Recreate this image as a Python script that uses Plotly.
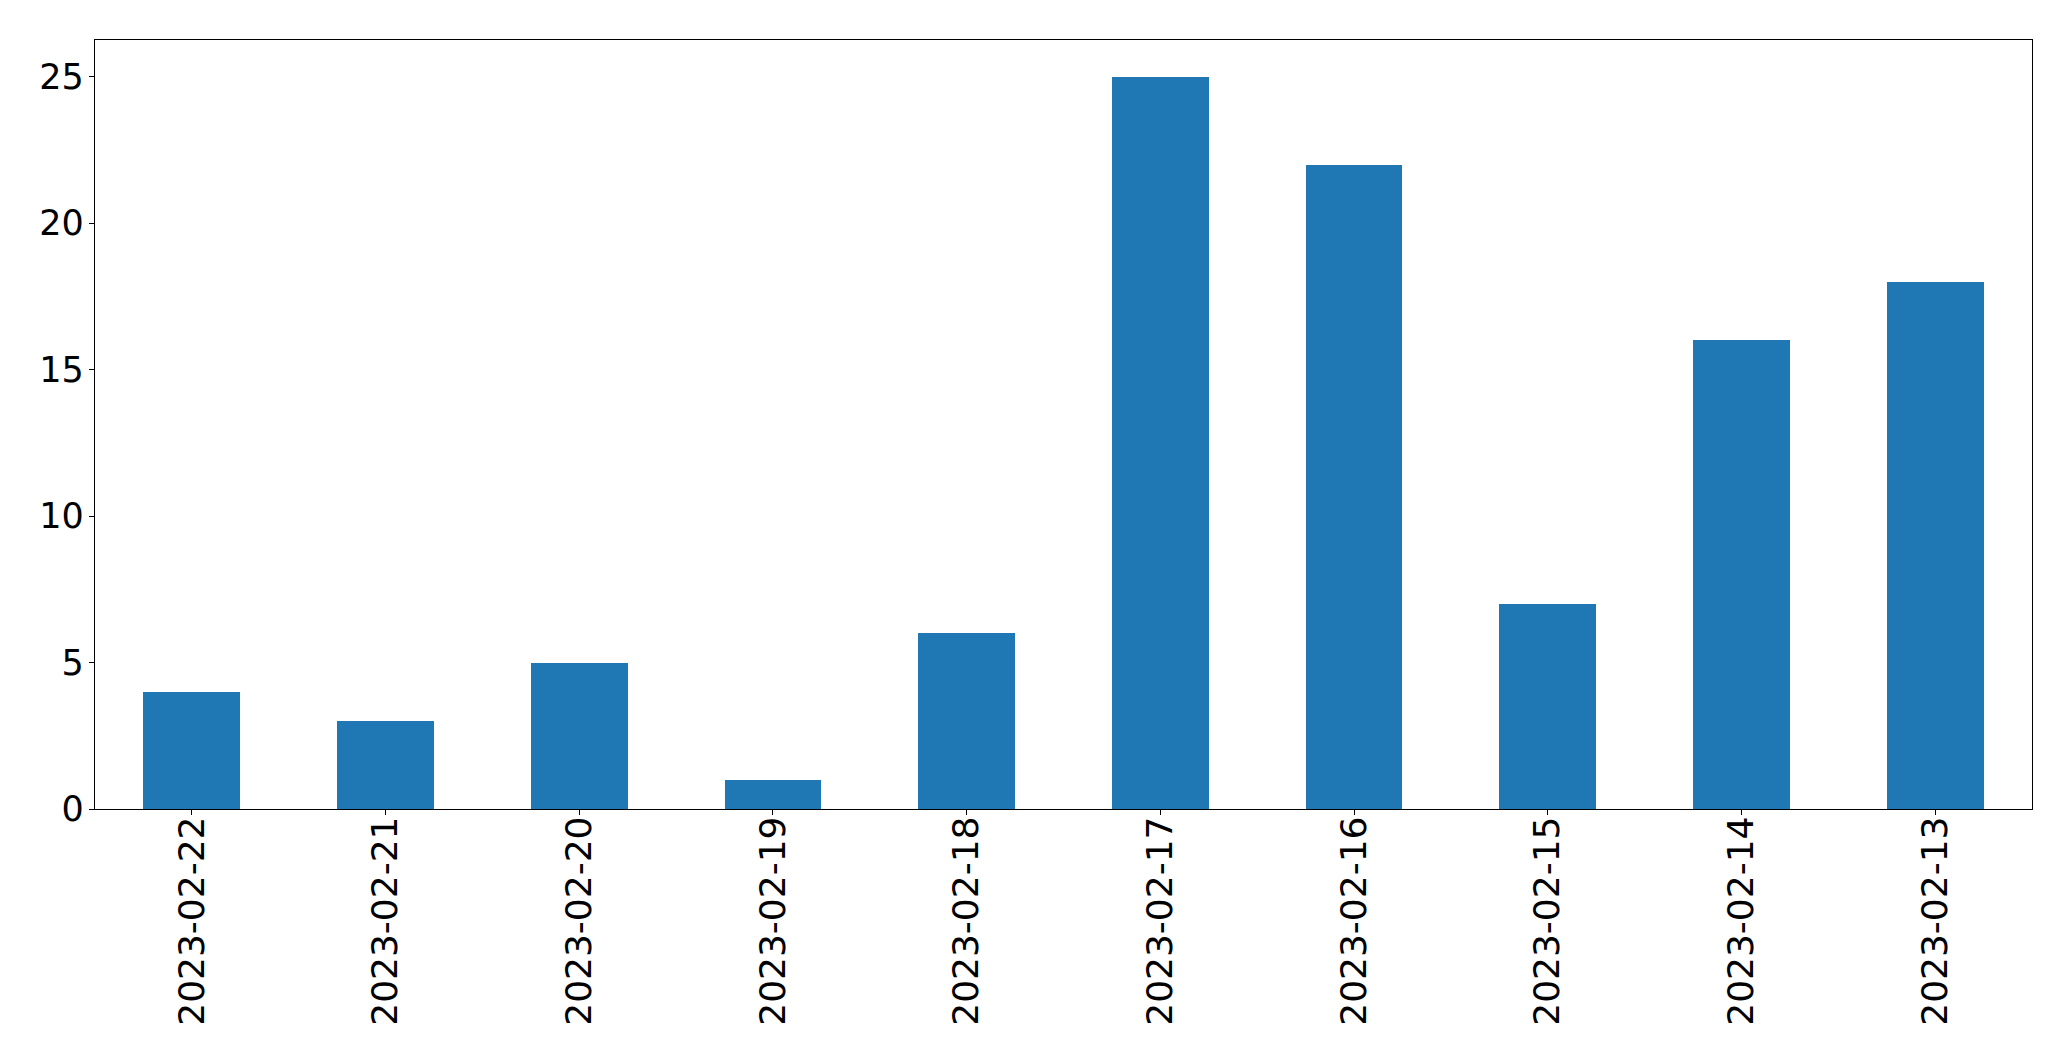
import plotly.graph_objects as go

dates = ["2023-02-22", "2023-02-21", "2023-02-20", "2023-02-19", "2023-02-18",
         "2023-02-17", "2023-02-16", "2023-02-15", "2023-02-14", "2023-02-13"]
counts = [4, 3, 5, 1, 6, 25, 22, 7, 16, 18]
y_ticks = [0, 5, 10, 15, 20, 25]

fig = go.Figure(go.Bar(x=list(range(len(dates))), y=counts, width=0.5,
                       marker=dict(color="#1f77b4", line=dict(width=0))))

W, H = 2071, 1061
fig.update_layout(
    width=W, height=H,
    margin=dict(l=95, r=39, t=40, b=252, pad=0),
    paper_bgcolor="white", plot_bgcolor="white",
    font=dict(family="DejaVu Sans", size=36, color="black"),
    showlegend=False,
    bargap=0,
)
fig.update_xaxes(
    range=[-0.5, 9.5], tickmode="array", tickvals=list(range(len(dates))), ticktext=dates,
    tickangle=-90, showline=True, mirror=True, linecolor="black", linewidth=1.3,
    ticks="outside", ticklen=5, tickcolor="black", tickwidth=1.3, showgrid=False, zeroline=False,
    ticklabelstandoff=-13,
)
fig.update_yaxes(
    range=[0, 26.25], tickmode="array", tickvals=y_ticks,
    showline=True, mirror=True, linecolor="black", linewidth=1.3,
    ticks="outside", ticklen=5, tickcolor="black", tickwidth=1.3, showgrid=False, zeroline=False,
    ticklabelstandoff=-2, tickfont=dict(size=35),
)
fig.write_html("out.html", config={"displayModeBar": False},
               post_script="document.body.style.margin='0';document.body.style.overflow='hidden';")
